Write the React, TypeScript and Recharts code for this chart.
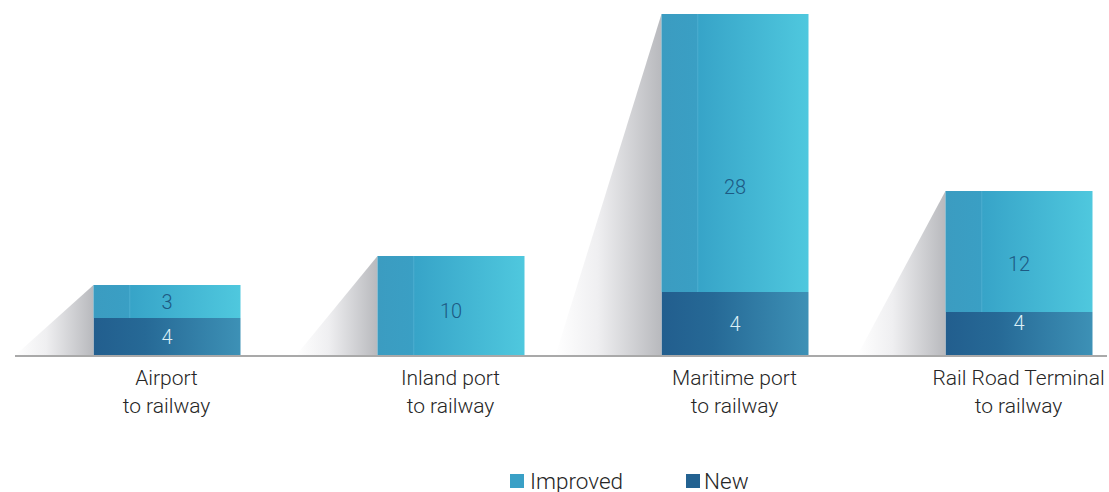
import React from "react";
import { BarChart, Bar, XAxis, YAxis, Legend, LabelList } from "recharts";

// Categories (two-line tick labels)
const categories = ["Airport to railway", "Inland port to railway", "Maritime port to railway", "Rail Road Terminal to railway"];
const tickLine1 = ["Airport", "Inland port", "Maritime port", "Rail Road Terminal"];
const tickLine2 = ["to railway", "to railway", "to railway", "to railway"];

// Bar heights as drawn in the picture (the graphic is not drawn to scale)
const newHeights = [3.8, 0, 6.4, 4.4];
const improvedHeights = [3.3, 10.0, 27.8, 12.1];

// Printed values
const newLabels: (number | null)[] = [4, null, 4, 4];
const improvedLabels: (number | null)[] = [3, 10, 28, 12];

// Label vertical nudges (style only, px)
const NEW_LABEL_DY = [0, 0, -11, -2];
const IMPROVED_LABEL_DY = [0, 5, 34, 12];

const data = categories.map((name, i) => ({
  name,
  line1: tickLine1[i],
  line2: tickLine2[i],
  newH: newHeights[i],
  improvedH: improvedHeights[i],
  newLabel: newLabels[i],
  improvedLabel: improvedLabels[i],
}));

const FONT = "Roboto, 'Noto Sans', sans-serif";
const CHART_W = 1101;
const CHART_H = 484;

const CategoryTick = (props: any) => {
  const { x, y, index } = props;
  const d = data[index];
  return (
    <g>
      <text x={x} y={y + 29} textAnchor="middle" fontFamily={FONT} fontWeight={300} fontSize={21} fill="#262626">
        {d.line1}
      </text>
      <text x={x} y={y + 57} textAnchor="middle" fontFamily={FONT} fontWeight={300} fontSize={21} fill="#262626">
        {d.line2}
      </text>
    </g>
  );
};

const ImprovedShape = (props: any) => {
  const { x, y, width, height, background } = props;
  if (width == null || height == null) return null;
  const base = background ? background.y + background.height : y + height;
  const h = base - y;
  const d = 72 + 0.1 * h;
  return (
    <g>
      <polygon points={`${x},${y} ${x - d},${base} ${x},${base}`} fill="url(#shadowGrad)" />
      <rect x={x} y={y} width={width} height={height} fill="url(#improvedGrad)" />
    </g>
  );
};

const makeLabel = (color: string, dys: number[]) => (props: any) => {
  const { x, y, width, height, value, index } = props;
  if (value == null || !height) return null;
  return (
    <text
      x={x + width / 2}
      y={y + height / 2 + (dys[index] || 0)}
      textAnchor="middle"
      dominantBaseline="central"
      fontFamily={FONT}
      fontWeight={300}
      fontSize={20}
      fill={color}
    >
      {value}
    </text>
  );
};

const LegendContent = () => (
  <div
    style={{
      height: 40,
      boxSizing: "border-box",
      paddingTop: 17,
      paddingLeft: 502,
      display: "flex",
      alignItems: "center",
      fontFamily: FONT,
      fontWeight: 300,
      fontSize: 22.5,
      color: "#262626",
      lineHeight: "26px",
    }}
  >
    <span style={{ display: "inline-block", width: 14, height: 14, background: "#3aa0c6", marginRight: 6 }} />
    <span style={{ marginRight: 63 }}>Improved</span>
    <span style={{ display: "inline-block", width: 14, height: 14, background: "#236291", marginRight: 4 }} />
    <span>New</span>
  </div>
);

export default function App() {
  return (
    <div style={{ width: CHART_W, height: CHART_H, marginLeft: 8, paddingTop: 8 }}>
      <style>{`html, body { margin: 0; overflow: hidden; }`}</style>
      <BarChart
        width={CHART_W}
        height={CHART_H}
        data={data}
        margin={{ top: 0, right: 2, bottom: 0, left: 7 }}
        barSize={147}
      >
        <defs>
          <linearGradient id="improvedGrad" x1="0" y1="0" x2="1" y2="0">
            <stop offset="0" stopColor="#3b9cc1" />
            <stop offset="0.24" stopColor="#3a9fc4" />
            <stop offset="0.245" stopColor="#47aacd" />
            <stop offset="0.255" stopColor="#37a4c8" />
            <stop offset="1" stopColor="#4fc8de" />
          </linearGradient>
          <linearGradient id="newGrad" x1="0" y1="0" x2="1" y2="0">
            <stop offset="0" stopColor="#225e8e" />
            <stop offset="0.35" stopColor="#266996" />
            <stop offset="1" stopColor="#3d91b6" />
          </linearGradient>
          <linearGradient id="shadowGrad" x1="0" y1="0" x2="1" y2="0">
            <stop offset="0" stopColor="#ffffff" />
            <stop offset="0.4" stopColor="#efeff1" />
            <stop offset="1" stopColor="#b8b9bd" />
          </linearGradient>
        </defs>
        <XAxis
          dataKey="name"
          axisLine={{ stroke: "#a9a9a9", strokeWidth: 2 }}
          tickLine={false}
          tickSize={0}
          tickMargin={0}
          height={96}
          interval={0}
          padding={{ left: 9.5, right: -53.5 }}
          tick={<CategoryTick />}
        />
        <YAxis hide domain={[0, 34.8]} />
        <Legend verticalAlign="bottom" height={40} content={<LegendContent />} wrapperStyle={{ left: 0, width: CHART_W, bottom: 0 }} />
        <Bar dataKey="newH" name="New" stackId="s" fill="url(#newGrad)" isAnimationActive={false}>
          <LabelList dataKey="newLabel" content={makeLabel("#dceff6", NEW_LABEL_DY)} />
        </Bar>
        <Bar dataKey="improvedH" name="Improved" stackId="s" fill="url(#improvedGrad)" shape={<ImprovedShape />} isAnimationActive={false}>
          <LabelList dataKey="improvedLabel" content={makeLabel("#1d5a84", IMPROVED_LABEL_DY)} />
        </Bar>
      </BarChart>
    </div>
  );
}
